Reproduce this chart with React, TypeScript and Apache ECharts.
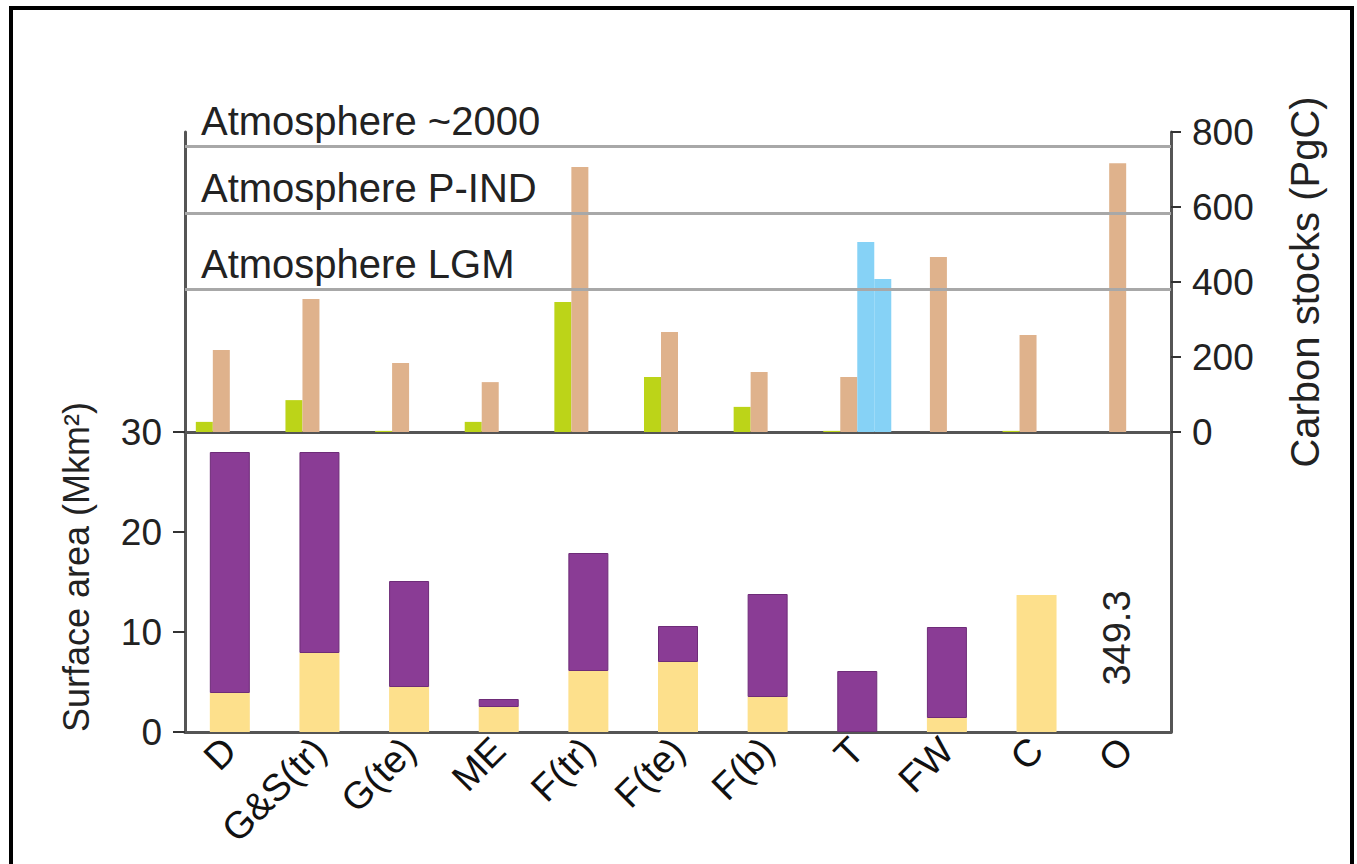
import React, { useEffect, useRef } from "react";
import * as echarts from "echarts";

const categories = ["D", "G&S(tr)", "G(te)", "ME", "F(tr)", "F(te)", "F(b)", "T", "FW", "C", "O"];

// Top panel: carbon stocks (PgC)
const vegetationC = [27, 85, 3, 27, 347, 147, 67, 3, 0, 3, 0];
const soilC = [219, 355, 184, 133, 707, 267, 160, 147, 467, 259, 717];
const permafrostA = [null, null, null, null, null, null, null, 507, null, null, null];
const permafrostB = [null, null, null, null, null, null, null, 408, null, null, null];

// Atmosphere reference levels (PgC)
const atmosphereNames = ["Atmosphere ~2000", "Atmosphere P-IND", "Atmosphere LGM"];
const atmosphereValues = [763, 584, 381];

// Bottom panel: surface area (Mkm2)
const areaLower = [3.9, 7.9, 4.5, 2.5, 6.1, 7.0, 3.5, 0, 1.4, 13.7, null];
const areaUpper = [24.1, 20.1, 10.6, 0.8, 11.8, 3.6, 10.3, 6.1, 9.1, null, null];

const carbonTicks = { min: 0, max: 800, interval: 200 };
const areaTicks = { min: 0, max: 30, interval: 10 };
const oceanArea = "349.3";
const oceanLabelAt = ["O", 9.4];

const FONT = "Liberation Sans, Arial, sans-serif";

export default function App() {
  const ref = useRef<HTMLDivElement>(null);
  useEffect(() => {
    document.body.style.margin = "0";
    const chart = echarts.init(ref.current!, null, { renderer: "svg" });
    const axisLine = { show: true, lineStyle: { color: "#555", width: 3 } };
    const frame = {
      type: "rect",
      shape: { x: 11, y: 8, width: 1341, height: 880 },
      style: { fill: "none", stroke: "#000", lineWidth: 4 },
      silent: true,
    };
    const option = {
      animation: false,
      backgroundColor: "#fff",
      textStyle: { fontFamily: FONT },
      graphic: [frame],
      grid: [
        { left: 185, right: 186, top: 132, height: 300 },
        { left: 185, right: 186, top: 432, height: 300 },
      ],
      xAxis: [
        {
          type: "category",
          gridIndex: 0,
          data: categories,
          axisLine: axisLine,
          axisTick: { show: false },
          axisLabel: { show: false },
        },
        {
          type: "category",
          gridIndex: 1,
          data: categories,
          axisLine: axisLine,
          axisTick: { show: false },
          axisLabel: {
            rotate: 45,
            fontSize: 38,
            color: "#111",
            fontFamily: FONT,
            margin: 12,
          },
        },
      ],
      yAxis: [
        {
          type: "value",
          gridIndex: 0,
          position: "right",
          min: carbonTicks.min,
          max: carbonTicks.max,
          interval: carbonTicks.interval,
          axisLine: axisLine,
          axisTick: { show: true, length: 10, lineStyle: { color: "#333", width: 2 } },
          axisLabel: { fontSize: 37, color: "#222", margin: 21, fontFamily: FONT },
          splitLine: { show: false },
          name: "Carbon stocks (PgC)",
          nameLocation: "middle",
          nameRotate: 90,
          nameGap: 114,
          nameTextStyle: { fontSize: 40, color: "#222", fontFamily: FONT },
        },
        {
          type: "value",
          gridIndex: 0,
          position: "left",
          min: carbonTicks.min,
          max: carbonTicks.max,
          axisLine: axisLine,
          axisTick: { show: false },
          axisLabel: { show: false },
          splitLine: { show: false },
        },
        {
          type: "value",
          gridIndex: 1,
          position: "left",
          min: areaTicks.min,
          max: areaTicks.max,
          interval: areaTicks.interval,
          axisLine: axisLine,
          axisTick: { show: true, length: 12, lineStyle: { color: "#333", width: 2 } },
          axisLabel: { fontSize: 37, color: "#222", margin: 23, fontFamily: FONT },
          splitLine: { show: false },
          name: "Surface area (Mkm²)",
          nameLocation: "middle",
          nameRotate: 90,
          nameGap: 91,
          nameTextStyle: { fontSize: 36, color: "#222", fontFamily: FONT, padding: [0, 0, 0, 30] },
        },
        {
          type: "value",
          gridIndex: 1,
          position: "right",
          min: areaTicks.min,
          max: areaTicks.max,
          axisLine: axisLine,
          axisTick: { show: false },
          axisLabel: { show: false },
          splitLine: { show: false },
        },
      ],
      series: [
        {
          name: "Vegetation",
          type: "bar",
          xAxisIndex: 0,
          yAxisIndex: 0,
          data: vegetationC,
          barWidth: 17,
          barGap: "0%",
          itemStyle: { color: "#bcd418" },
        },
        {
          name: "Soil",
          type: "bar",
          xAxisIndex: 0,
          yAxisIndex: 0,
          data: soilC,
          barWidth: 17,
          barGap: "0%",
          itemStyle: { color: "#dfb28c" },
          markLine: {
            silent: true,
            symbol: "none",
            lineStyle: { color: "#a8a8a8", width: 3, type: "solid" },
            label: {
              position: "insideStartTop",
              formatter: "{b}",
              fontSize: 40,
              color: "#222",
              fontFamily: FONT,
              distance: [16, 5],
            },
            data: atmosphereValues.map((v, i) => ({ yAxis: v, name: atmosphereNames[i] })),
          },
        },
        {
          name: "Permafrost A",
          type: "bar",
          xAxisIndex: 0,
          yAxisIndex: 0,
          data: permafrostA,
          barWidth: 17,
          barGap: "0%",
          itemStyle: { color: "#86d2f6" },
        },
        {
          name: "Permafrost B",
          type: "bar",
          xAxisIndex: 0,
          yAxisIndex: 0,
          data: permafrostB,
          barWidth: 17,
          barGap: "0%",
          itemStyle: { color: "#86d2f6" },
        },
        {
          name: "Area lower",
          type: "bar",
          xAxisIndex: 1,
          yAxisIndex: 2,
          stack: "area",
          data: areaLower,
          barWidth: 40,
          itemStyle: { color: "#fde08c" },
        },
        {
          name: "Area upper",
          type: "bar",
          xAxisIndex: 1,
          yAxisIndex: 2,
          stack: "area",
          data: areaUpper,
          barWidth: 40,
          itemStyle: { color: "#8a3c95", borderColor: "#6e2c78", borderWidth: 1 },
        },
      ],
    };
    chart.setOption(option as any);
    const p = chart.convertToPixel({ xAxisIndex: 1, yAxisIndex: 2 } as any, oceanLabelAt as any) as number[];
    if (p && p.length === 2) {
      chart.setOption({
        graphic: [
          frame,
          {
            type: "text",
            x: p[0] - 9,
            y: p[1],
            rotation: Math.PI / 2,
            silent: true,
            style: {
              text: oceanArea,
              fontSize: 38,
              fontFamily: FONT,
              fill: "#222",
              align: "center",
              verticalAlign: "middle",
            },
          },
        ],
      } as any);
    }
    return () => chart.dispose();
  }, []);
  return <div ref={ref} style={{ width: 1357, height: 864 }} />;
}
